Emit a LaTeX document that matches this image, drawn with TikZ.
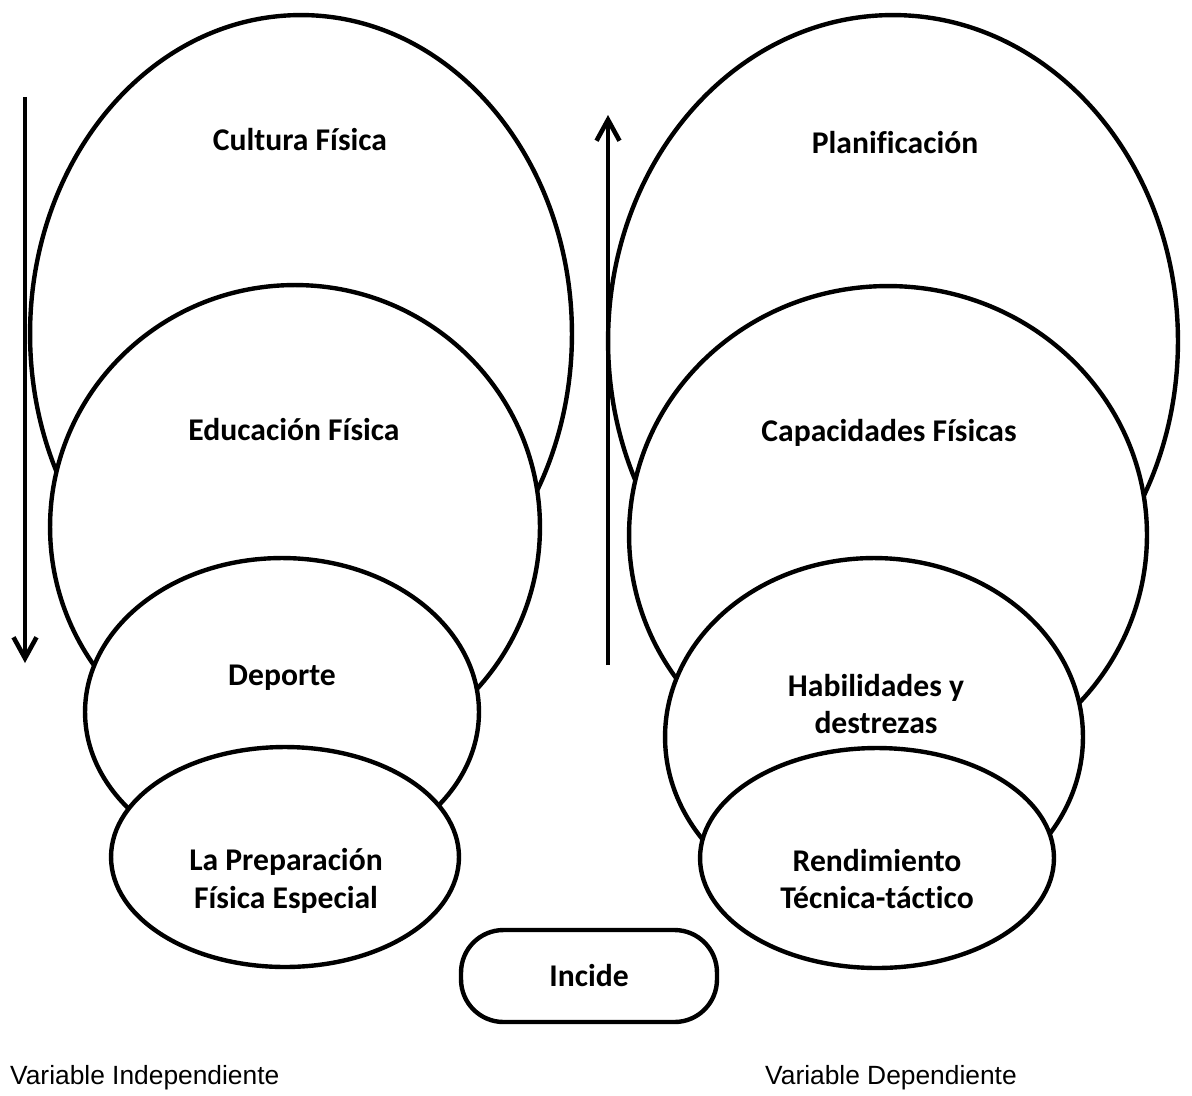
\documentclass[tikz,border=0pt]{standalone}
\usepackage{fontspec}
\setmainfont{Carlito}[Ligatures=NoCommon]
\newfontfamily\arialfont{Liberation Sans}
\usetikzlibrary{shapes.geometric,arrows.meta}

\begin{document}
\begin{tikzpicture}[
  x=0.02cm, y=-0.02cm,
  every node/.style={font=\bfseries\fontsize{18}{21.6}\selectfont, align=center},
  bubble/.style={ellipse, draw, fill=white, line width=2.5pt, inner sep=0pt},
  flow/.style={line width=2.6pt, -{Straight Barb[length=0.42cm, width=0.46cm, line width=2.6pt]}},
  varlabel/.style={font=\arialfont\fontsize{15}{18}\selectfont, anchor=west}]
  \useasboundingbox (0,0) rectangle (1192,1095);
  \node[bubble, minimum width=10.84cm, minimum height=12.76cm] (cult) at (301,334) {};
  \node[bubble, minimum width=9.8cm, minimum height=9.68cm] (edu) at (295,527) {};
  \node[bubble, minimum width=7.88cm, minimum height=6.16cm] (dep) at (282,712) {};
  \node[bubble, minimum width=6.96cm, minimum height=4.4cm] (prep) at (285,857) {};
  \node[bubble, minimum width=11.4cm, minimum height=13.04cm] (plan) at (893,341) {};
  \node[bubble, minimum width=10.36cm, minimum height=9.96cm] (cap) at (888,535) {};
  \node[bubble, minimum width=8.36cm, minimum height=7.16cm] (hab) at (874,737) {};
  \node[bubble, minimum width=7.08cm, minimum height=4.4cm] (rend) at (877,858) {};
  \node (cult-t) at (300,140) {Cultura Física};
  \node (edu-t) at (294,430) {Educación Física};
  \node (dep-t) at (282,678) {Deporte};
  \node (prep-t) at (286,881) {La Preparación\\Física Especial};
  \node (plan-t) at (895,143) {Planificación};
  \node (cap-t) at (889,433) {Capacidades Físicas};
  \node (hab-t) at (876,704) {Habilidades y\\destrezas};
  \node (rend-t) at (877,879) {Rendimiento\\Técnica-táctico};
  \node[draw, line width=2.5pt, rounded corners=0.85cm, minimum width=5.12cm, minimum height=1.84cm] (inc) at (589,976) {Incide};
  \coordinate (down-s) at (25,97);
  \coordinate (down-e) at (25,663);
  \coordinate (up-s) at (608,665);
  \coordinate (up-e) at (608,115);
  \draw[flow] (down-s) -- (down-e);
  \draw[flow] (up-s) -- (up-e);
  \node[varlabel] (indep) at (4,1078) {Variable Independiente};
  \node[varlabel] (dep-v) at (759,1078) {Variable Dependiente};
\end{tikzpicture}
\end{document}
